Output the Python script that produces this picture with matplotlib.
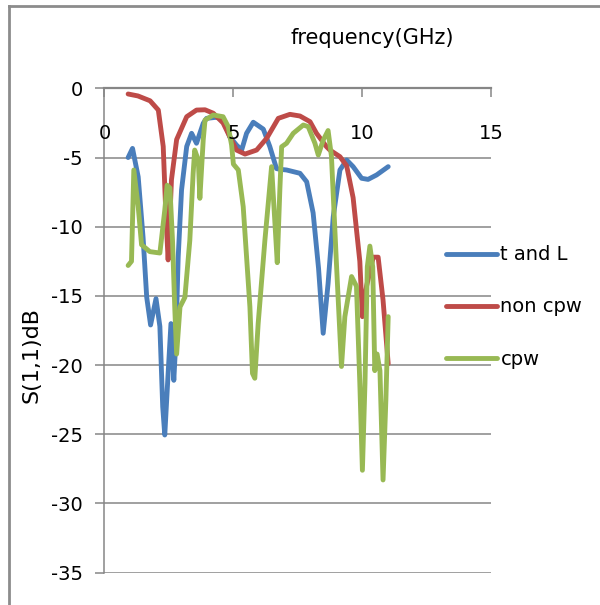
import matplotlib
matplotlib.use("Agg")
import matplotlib.pyplot as plt
from matplotlib.lines import Line2D

plt.rcParams['font.family'] = ['DejaVu Sans']

# S11 sweeps, frequency in GHz, return loss in dB
freq_tl = [0.92, 1.09, 1.31, 1.50, 1.64, 1.79, 2.00, 2.15, 2.26, 2.34, 2.47, 2.58, 2.69, 2.77,
           2.86, 2.99, 3.19, 3.38, 3.57, 3.83, 3.96, 4.30, 4.60, 4.86, 5.12, 5.32, 5.51, 5.77,
           6.16, 6.41, 6.67, 6.80, 7.06, 7.58, 7.84, 8.09, 8.30, 8.48, 8.67, 8.87, 9.13, 9.39,
           9.64, 9.97, 10.22, 10.55, 11.00]
s11_tl = [-5.0, -4.34, -6.4, -10.8, -15.1, -17.1, -15.2, -17.2, -23.0, -25.05, -20.6, -17.0, -21.1, -18.2,
          -12.2, -7.35, -4.2, -3.25, -3.97, -2.53, -2.17, -2.1, -2.17, -3.5, -4.1, -4.46, -3.25, -2.45,
          -2.95, -4.2, -5.8, -5.85, -5.9, -6.14, -6.75, -9.0, -13.0, -17.7, -14.1, -9.28, -5.9, -5.18,
          -5.66, -6.5, -6.58, -6.26, -5.66]

freq_noncpw = [0.92, 1.30, 1.77, 2.09, 2.28, 2.38, 2.47, 2.60, 2.80, 3.19, 3.57, 3.90, 4.22, 4.60,
               4.86, 5.12, 5.45, 5.90, 6.29, 6.74, 7.19, 7.58, 7.97, 8.22, 8.61, 8.74, 9.13, 9.39,
               9.64, 9.77, 9.90, 10.00, 10.16, 10.42, 10.61, 10.80, 11.00]
s11_noncpw = [-0.41, -0.55, -0.9, -1.57, -4.2, -9.0, -12.4, -6.6, -3.7, -2.05, -1.57, -1.55, -1.8, -2.5,
              -3.5, -4.46, -4.75, -4.46, -3.61, -2.17, -1.88, -2.0, -2.41, -3.25, -4.22, -4.46, -4.94, -5.6,
              -7.9, -10.2, -12.5, -16.5, -14.3, -12.2, -12.2, -15.3, -19.9]

freq_cpw = [0.92, 1.05, 1.14, 1.31, 1.44, 1.76, 2.15, 2.34, 2.43, 2.54, 2.64, 2.73, 2.80, 2.93,
            3.12, 3.31, 3.44, 3.50, 3.64, 3.70, 3.83, 3.90, 4.22, 4.60, 4.80, 4.93, 5.00, 5.19,
            5.38, 5.64, 5.74, 5.83, 5.96, 6.22, 6.48, 6.61, 6.70, 6.80, 6.87, 7.06, 7.32, 7.71,
            7.90, 8.16, 8.29, 8.48, 8.67, 8.80, 9.00, 9.19, 9.32, 9.58, 9.77, 9.90, 10.00, 10.10,
            10.19, 10.29, 10.40, 10.48, 10.57, 10.68, 10.80, 10.91, 11.00]
s11_cpw = [-12.8, -12.5, -5.9, -8.55, -11.3, -11.8, -11.9, -8.8, -7.0, -7.2, -11.0, -16.0, -19.2, -15.8,
           -15.1, -11.0, -6.14, -4.46, -5.18, -7.95, -3.74, -2.29, -1.93, -2.05, -2.77, -4.1, -5.48, -5.9,
           -8.55, -15.8, -20.6, -20.95, -17.0, -11.0, -5.66, -9.75, -12.6, -7.35, -4.22, -3.97, -3.25, -2.65,
           -2.77, -3.97, -4.82, -3.75, -3.05, -4.9, -12.9, -20.1, -16.5, -13.6, -14.3, -21.3, -27.6, -21.3,
           -12.9, -11.4, -12.9, -20.4, -19.2, -20.4, -28.3, -22.5, -16.5]

series_names = ['t and L', 'non cpw', 'cpw']
series_colors = ['#4A7EBB', '#BE4B48', '#98B954']
x_ticks = [0, 5, 10, 15]
y_ticks = [0, -5, -10, -15, -20, -25, -30, -35]

grey = '#868686'
fig = plt.figure(figsize=(6.0, 6.05), dpi=100)
ax = fig.add_axes([0.174, 0.0534, 0.645, 0.8006])

for fx, sy, name, col in zip([freq_tl, freq_noncpw, freq_cpw], [s11_tl, s11_noncpw, s11_cpw],
                             series_names, series_colors):
    ax.plot(fx, sy, color=col, lw=3.5, label=name, solid_joinstyle='round', solid_capstyle='round')

ax.set_xlim(0, 15)
ax.set_ylim(-35, 0)
ax.set_yticks(y_ticks)
ax.set_yticklabels([str(v) for v in y_ticks])
ax.yaxis.grid(True, color=grey, lw=1.1)
ax.set_axisbelow(True)

for side in ['right', 'bottom']:
    ax.spines[side].set_visible(False)
ax.spines['left'].set_color(grey)
ax.spines['left'].set_linewidth(1.1)
ax.spines['top'].set_color(grey)
ax.spines['top'].set_linewidth(1.6)

ax.tick_params(axis='y', length=6.5, width=1.1, color=grey, pad=9, labelsize=14)
ax.set_xticks(x_ticks)
ax.tick_params(axis='x', bottom=False, labelbottom=False, top=True, labeltop=False,
               direction='in', length=6.5, width=1.1, color=grey)
# tick labels of the zero-crossing axis sit just under it
for v in x_ticks:
    ax.text(v, -3.3, str(v), ha='center', va='center', fontsize=14)

ax.set_ylabel('S(1,1)dB', fontsize=16)
ax.yaxis.set_label_coords(-0.162, 0.449)
fig.text(372 / 600, 1 - 38 / 605, 'frequency(GHz)', ha='center', va='center', fontsize=15)

ax.legend(loc='center left', bbox_to_anchor=(446 / 600, 1 - 307 / 605), bbox_transform=fig.transFigure,
          frameon=False, fontsize=14, handlelength=2.6, handletextpad=0.2, labelspacing=1.7,
          borderpad=0, borderaxespad=0)

# outer chart border, only left and top edges show
fig.add_artist(Line2D([8.5 / 600, 8.5 / 600], [0, 1 - 6 / 605], transform=fig.transFigure, color='#8c8c8c', lw=2))
fig.add_artist(Line2D([8.5 / 600, 1], [1 - 6 / 605, 1 - 6 / 605], transform=fig.transFigure, color='#8c8c8c', lw=2))

fig.savefig('out.png', dpi=100)
